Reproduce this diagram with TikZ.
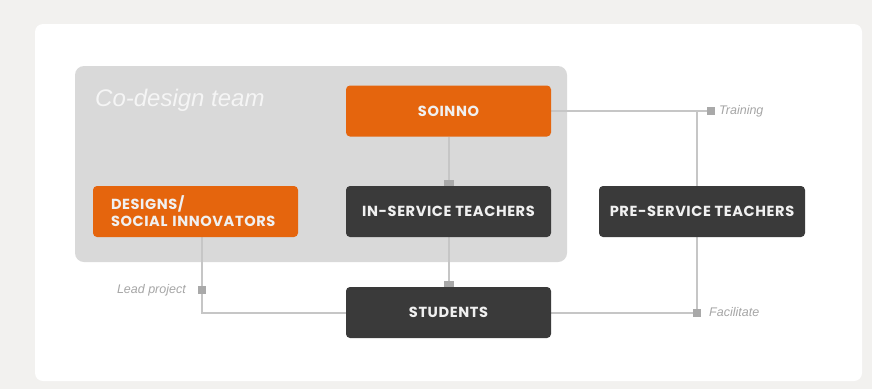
\documentclass[tikz,border=0pt]{standalone}
\usepackage{fontspec}
\setmainfont{Liberation Sans}
\newfontfamily\labelfont{Poppins}[UprightFont=* Bold, LetterSpace=4]
\usetikzlibrary{calc}
\pgfdeclarelayer{backdrop}
\pgfdeclarelayer{links}
\pgfsetlayers{backdrop,links,main}

\definecolor{pagegrey}{HTML}{F2F1EF}
\definecolor{teamgrey}{HTML}{D9D9D9}
\definecolor{accent}{HTML}{E5650D}
\definecolor{charcoal}{HTML}{3A3A3A}
\definecolor{wire}{HTML}{C6C6C6}
\definecolor{knob}{HTML}{A9A9A9}
\definecolor{note}{HTML}{A6A6A6}

\tikzset{
  box/.style={rounded corners=4pt, minimum width=205pt, minimum height=51pt,
    inner sep=0pt, text=white!94!black, font=\labelfont\fontsize{14.6}{17}\selectfont},
  orangebox/.style={box, fill=accent},
  darkbox/.style={box, fill=charcoal},
  wireline/.style={draw=wire, line width=2pt},
  knobmark/.style={fill=knob, minimum size=8pt, inner sep=0pt},
  notetext/.style={text=note, font=\itshape\fontsize{12.5}{14}\selectfont, inner sep=0pt},
}

\begin{document}
\begin{tikzpicture}[x=1pt, y=-1pt]
  \useasboundingbox (0,0) rectangle (872,389);

  % page and card
  \begin{pgfonlayer}{backdrop}
    \fill[pagegrey] (0,0) rectangle (872,389);
    \fill[white, rounded corners=8pt] (35,24) rectangle (862,381);
    \fill[teamgrey, rounded corners=9pt] (75,66) rectangle (567,262);
  \end{pgfonlayer}

  \node[anchor=base west, text=white!96!black, inner sep=0pt,
        font=\itshape\fontsize{24}{28}\selectfont] (team) at (95,106) {Co-design team};

  % boxes
  \node[orangebox] (soinno)  at (448.5,111)   {SOINNO};
  \node[darkbox]   (inserv)  at (448.5,211.5) {IN-SERVICE TEACHERS};
  \node[orangebox, align=left, text width=169pt, inner xsep=18pt]
                   (designs) at (195.5,211.5) {DESIGNS/\\SOCIAL INNOVATORS};
  \node[darkbox]   (students) at (448.5,312.5) {STUDENTS};
  \node[darkbox, minimum width=206pt] (preserv) at (702,211.5) {PRE-SERVICE TEACHERS};

  % junction points
  \coordinate (tcorner) at (697,111);
  \coordinate (tend)    at (711,111);
  \coordinate (fcorner) at (697,312.5);
  \coordinate (lcorner) at (202,312.5);
  \coordinate (lmark)   at (202,290);

  \begin{pgfonlayer}{links}
    \draw[wireline] (soinno) -- (inserv);
    \draw[wireline] (inserv) -- (students);
    \draw[wireline] (soinno.east) -- (tend);
    \draw[wireline] (tcorner) -- (tcorner |- preserv.north);
    \draw[wireline] (tcorner |- preserv.south) -- (fcorner) -- (students.east);
    \draw[wireline] (lcorner |- designs.south) -- (lcorner) -- (students.west);
    \node[knobmark, minimum width=10pt] (k1) at (448.5,184) {};
    \node[knobmark, minimum width=10pt] (k2) at (448.5,285) {};
  \end{pgfonlayer}

  \node[knobmark] (ktrain) at (tend) {};
  \node[knobmark] (kfac)   at (fcorner) {};
  \node[knobmark] (klead)  at (lmark) {};

  % connector labels
  \node[notetext, anchor=west] (ltrain) at (719,111) {Training};
  \node[notetext, anchor=west] (lfac)   at (709,312.5) {Facilitate};
  \node[notetext, anchor=east] (llead)  at (186,290) {Lead project};
\end{tikzpicture}
\end{document}
